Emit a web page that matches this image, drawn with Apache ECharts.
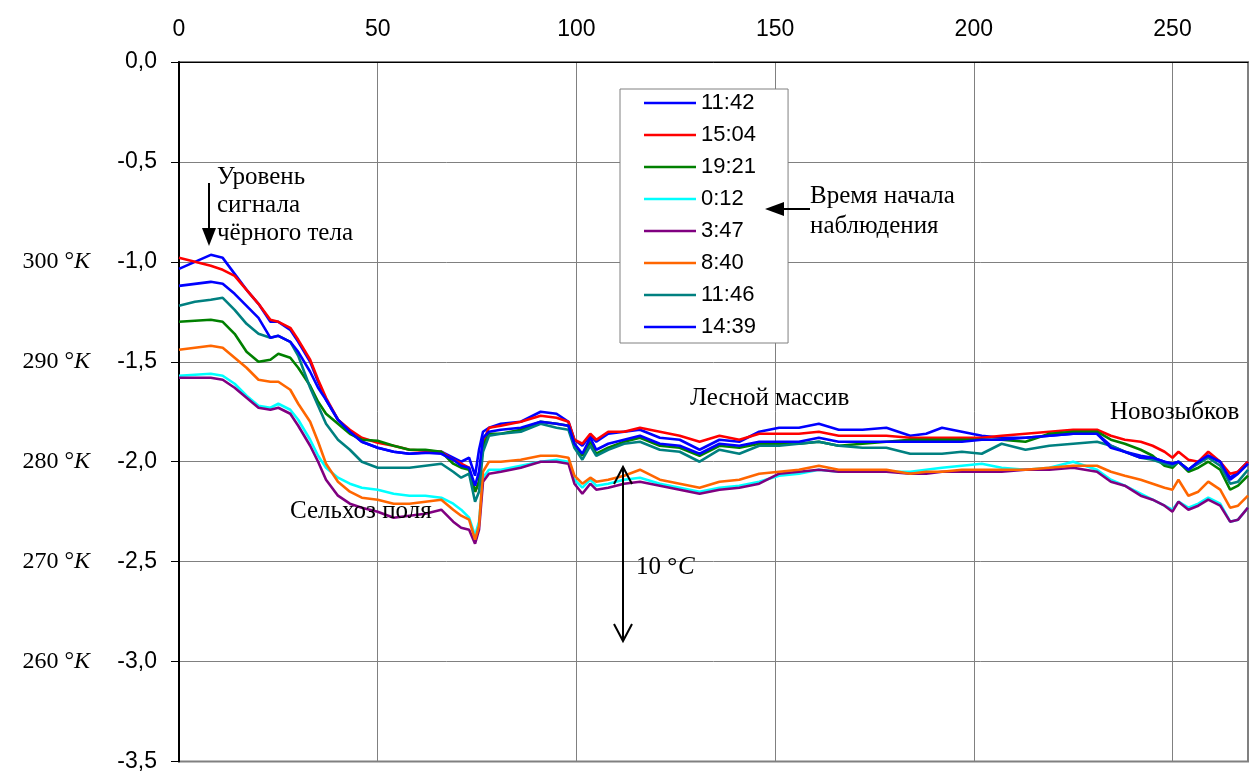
<!DOCTYPE html>
<html style="height: 100%">
<head>
    <meta charset="utf-8">
    <script src="https://cdn.jsdelivr.net/npm/echarts@6/dist/echarts.min.js"></script>
</head>
<body style="height: 100%; margin: 0; background-color: #fff;">
<div id="container" style="width: 1252px; height: 773px"></div>
<script type="text/javascript">
// distance along the route (shared by all runs)
var xs = [0, 4, 8, 11, 14, 17, 20, 23, 25, 28,
    30, 33, 35, 37, 40, 43, 46, 50, 54, 58,
    62, 66, 69, 71, 73, 74.5, 75.5, 76.5, 78, 81,
    86, 91, 95, 98, 99.5, 101.5, 103.5, 105, 108, 112,
    116, 121, 126, 131, 136, 141, 146, 151, 156, 161,
    166, 172, 178, 184, 188, 192, 197, 202, 207, 213,
    219, 225, 231, 234.5, 238, 242, 245, 248, 250, 251.5,
    254, 256.5, 259, 262, 264.5, 266.5, 269];

var s1142 = [-1.035, -1.00, -0.965, -0.98, -1.06, -1.14, -1.21, -1.30, -1.30, -1.34,
    -1.40, -1.50, -1.60, -1.69, -1.79, -1.85, -1.90, -1.93, -1.95, -1.96,
    -1.955, -1.95, -1.98, -2.00, -1.98, -2.07, -1.94, -1.85, -1.83, -1.81,
    -1.80, -1.75, -1.76, -1.80, -1.89, -1.92, -1.87, -1.90, -1.86, -1.85,
    -1.84, -1.88, -1.89, -1.94, -1.89, -1.90, -1.85, -1.83, -1.83, -1.81,
    -1.84, -1.84, -1.83, -1.87, -1.86, -1.83, -1.85, -1.87, -1.88, -1.88,
    -1.87, -1.86, -1.86, -1.92, -1.95, -1.97, -1.98, -2.00, -2.01, -2.00,
    -2.04, -2.00, -1.97, -2.00, -2.08, -2.05, -2.00];

var s1504 = [-0.98, -1.00, -1.02, -1.04, -1.07, -1.14, -1.21, -1.29, -1.30, -1.33,
    -1.39, -1.49, -1.59, -1.68, -1.79, -1.84, -1.88, -1.905, -1.92, -1.94,
    -1.945, -1.95, -1.99, -2.01, -2.03, -2.15, -2.10, -1.90, -1.83, -1.82,
    -1.80, -1.77, -1.78, -1.80, -1.89, -1.91, -1.86, -1.89, -1.85, -1.85,
    -1.83, -1.85, -1.87, -1.90, -1.87, -1.89, -1.86, -1.86, -1.86, -1.85,
    -1.87, -1.87, -1.87, -1.88, -1.88, -1.88, -1.88, -1.88, -1.87, -1.86,
    -1.85, -1.84, -1.84, -1.87, -1.89, -1.90, -1.92, -1.95, -1.98, -1.95,
    -1.99, -2.00, -1.95, -2.00, -2.06, -2.05, -2.00];

var s1921 = [-1.30, -1.295, -1.29, -1.30, -1.36, -1.45, -1.50, -1.49, -1.46, -1.48,
    -1.53, -1.62, -1.70, -1.76, -1.81, -1.86, -1.89, -1.895, -1.92, -1.94,
    -1.94, -1.95, -2.01, -2.03, -2.04, -2.15, -2.10, -1.92, -1.86, -1.86,
    -1.84, -1.80, -1.81, -1.82, -1.91, -1.97, -1.90, -1.96, -1.93, -1.90,
    -1.88, -1.92, -1.93, -1.97, -1.92, -1.93, -1.91, -1.91, -1.91, -1.90,
    -1.92, -1.91, -1.90, -1.89, -1.89, -1.89, -1.89, -1.89, -1.89, -1.90,
    -1.86, -1.85, -1.85, -1.89, -1.91, -1.94, -1.97, -2.02, -2.03, -2.00,
    -2.05, -2.03, -2.00, -2.04, -2.14, -2.12, -2.07];

var s0012 = [-1.57, -1.565, -1.56, -1.57, -1.61, -1.67, -1.72, -1.73, -1.71, -1.74,
    -1.79, -1.89, -1.97, -2.03, -2.08, -2.11, -2.13, -2.14, -2.16, -2.17,
    -2.17, -2.18, -2.21, -2.24, -2.28, -2.37, -2.30, -2.08, -2.04, -2.04,
    -2.02, -2.00, -1.99, -2.00, -2.09, -2.13, -2.09, -2.12, -2.11, -2.09,
    -2.08, -2.11, -2.13, -2.15, -2.13, -2.12, -2.10, -2.07, -2.06, -2.04,
    -2.05, -2.05, -2.05, -2.05, -2.04, -2.03, -2.02, -2.01, -2.03, -2.04,
    -2.03, -2.00, -2.04, -2.09, -2.12, -2.16, -2.19, -2.22, -2.24, -2.20,
    -2.23, -2.21, -2.18, -2.21, -2.30, -2.29, -2.23];

var s0347 = [-1.58, -1.58, -1.58, -1.59, -1.63, -1.68, -1.73, -1.74, -1.73, -1.76,
    -1.82, -1.92, -2.00, -2.09, -2.17, -2.21, -2.23, -2.25, -2.28, -2.27,
    -2.26, -2.24, -2.30, -2.33, -2.34, -2.41, -2.34, -2.10, -2.06, -2.05,
    -2.03, -2.00, -2.00, -2.01, -2.11, -2.16, -2.11, -2.14, -2.13, -2.11,
    -2.10, -2.12, -2.14, -2.16, -2.14, -2.13, -2.11, -2.06, -2.05, -2.04,
    -2.05, -2.05, -2.05, -2.06, -2.06, -2.05, -2.05, -2.05, -2.05, -2.04,
    -2.04, -2.03, -2.05, -2.10, -2.12, -2.17, -2.19, -2.22, -2.25, -2.20,
    -2.24, -2.22, -2.19, -2.22, -2.30, -2.29, -2.23];

var s0840 = [-1.44, -1.43, -1.42, -1.43, -1.48, -1.53, -1.59, -1.60, -1.60, -1.64,
    -1.71, -1.80, -1.90, -2.01, -2.10, -2.15, -2.18, -2.19, -2.21, -2.21,
    -2.20, -2.19, -2.24, -2.27, -2.29, -2.39, -2.32, -2.05, -2.00, -2.00,
    -1.99, -1.97, -1.97, -1.98, -2.07, -2.11, -2.08, -2.10, -2.09, -2.07,
    -2.04, -2.09, -2.11, -2.13, -2.10, -2.09, -2.06, -2.05, -2.04, -2.02,
    -2.04, -2.04, -2.04, -2.06, -2.05, -2.05, -2.04, -2.04, -2.04, -2.04,
    -2.03, -2.02, -2.02, -2.05, -2.07, -2.09, -2.11, -2.13, -2.14, -2.09,
    -2.17, -2.15, -2.10, -2.14, -2.23, -2.22, -2.17];

var s1146 = [-1.22, -1.20, -1.19, -1.18, -1.24, -1.31, -1.36, -1.38, -1.37, -1.40,
    -1.47, -1.63, -1.72, -1.81, -1.89, -1.94, -2.00, -2.03, -2.03, -2.03,
    -2.02, -2.01, -2.05, -2.08, -2.06, -2.20, -2.15, -1.95, -1.87, -1.86,
    -1.85, -1.81, -1.83, -1.84, -1.93, -1.99, -1.92, -1.97, -1.94, -1.91,
    -1.90, -1.94, -1.95, -2.00, -1.94, -1.96, -1.92, -1.92, -1.91, -1.90,
    -1.92, -1.93, -1.93, -1.96, -1.96, -1.96, -1.95, -1.96, -1.91, -1.94,
    -1.92, -1.91, -1.90, -1.92, -1.95, -1.98, -1.99, -2.01, -2.02, -2.00,
    -2.04, -2.01, -1.98, -2.02, -2.11, -2.10, -2.04];

var s1439 = [-1.12, -1.11, -1.10, -1.11, -1.16, -1.22, -1.28, -1.38, -1.37, -1.40,
    -1.45, -1.55, -1.63, -1.69, -1.79, -1.85, -1.90, -1.93, -1.95, -1.96,
    -1.955, -1.96, -1.99, -2.02, -2.03, -2.12, -2.05, -1.88, -1.85, -1.84,
    -1.83, -1.80, -1.81, -1.82, -1.91, -1.96, -1.88, -1.94, -1.91, -1.89,
    -1.87, -1.91, -1.92, -1.96, -1.91, -1.92, -1.90, -1.90, -1.90, -1.88,
    -1.90, -1.90, -1.90, -1.90, -1.90, -1.90, -1.90, -1.89, -1.89, -1.88,
    -1.87, -1.86, -1.86, -1.93, -1.95, -1.98, -1.98, -2.00, -2.01, -2.00,
    -2.04, -2.00, -1.97, -2.00, -2.09, -2.06, -2.01];

var runNames = ['11:42', '15:04', '19:21', '0:12', '3:47', '8:40', '11:46', '14:39'];
var runValues = [s1142, s1504, s1921, s0012, s0347, s0840, s1146, s1439];
var runColors = ['#0000FF', '#FF0000', '#008000', '#00FFFF', '#800080', '#FF6600', '#008080', '#0000FF'];

// temperature marks shown beside the signal axis
var signalTicks = [-1.0, -1.5, -2.0, -2.5, -3.0];
var kelvinTicks = [300, 290, 280, 270, 260];

var chart = echarts.init(document.getElementById('container'));

var series = [];
for (var i = 0; i < runNames.length; i++) {
    var pts = [];
    for (var j = 0; j < xs.length; j++) {
        pts.push([xs[j], runValues[i][j]]);
    }
    series.push({
        name: runNames[i],
        type: 'line',
        data: pts,
        showSymbol: false,
        symbol: 'none',
        lineStyle: { color: runColors[i], width: 2.6 },
        itemStyle: { color: runColors[i] },
        animation: false
    });
}

var serif = '"Liberation Serif", "Times New Roman", serif';
var sans = '"Liberation Sans", Arial, sans-serif';

var option = {
    animation: false,
    grid: {
        left: 179, top: 62, right: 4, bottom: 10,
        show: true,
        borderColor: '#808080',
        borderWidth: 2
    },
    legend: {
        data: runNames,
        orient: 'vertical',
        left: 620,
        top: 89,
        icon: 'rect',
        itemWidth: 52,
        itemHeight: 2.5,
        itemGap: 8,
        padding: [2, 32, 4, 24],
        backgroundColor: '#fff',
        borderColor: '#808080',
        borderWidth: 1,
        borderRadius: 0,
        textStyle: { fontFamily: sans, fontSize: 22, color: '#000', lineHeight: 24 }
    },
    xAxis: {
        type: 'value',
        position: 'top',
        min: 0,
        max: 269,
        interval: 50,
        axisLine: { show: true, lineStyle: { color: '#000', width: 1 } },
        axisTick: { show: false },
        axisLabel: { showMaxLabel: false, margin: 21, fontFamily: sans, fontSize: 23, color: '#000' },
        splitLine: { show: true, lineStyle: { color: '#808080', width: 1 } }
    },
    yAxis: [{
        type: 'value',
        min: -3.5,
        max: 0,
        interval: 0.5,
        axisLine: { show: true, onZero: false, lineStyle: { color: '#000', width: 2 } },
        axisTick: { show: true, length: 8, lineStyle: { color: '#000' } },
        axisLabel: {
            margin: 22, fontFamily: sans, fontSize: 23, color: '#000',
            formatter: function (v) { return v.toFixed(1).replace('.', ','); }
        },
        splitLine: { show: true, lineStyle: { color: '#808080', width: 1 } }
    }, {
        type: 'value',
        position: 'left',
        min: -3.5,
        max: 0,
        interval: 0.5,
        axisLine: { show: false },
        axisTick: { show: false },
        splitLine: { show: false },
        axisLabel: {
            margin: 89,
            formatter: function (v) {
                for (var k = 0; k < signalTicks.length; k++) {
                    if (Math.abs(signalTicks[k] - v) < 1e-6) return '{n|' + kelvinTicks[k] + ' °}{k|K}';
                }
                return '';
            },
            rich: {
                n: { fontFamily: serif, fontSize: 24, color: '#000' },
                k: { fontFamily: serif, fontSize: 24, fontStyle: 'italic', color: '#000' }
            }
        }
    }],
    series: series,
    graphic: [
        { type: 'text', z: 100, style: { x: 217, y: 163, text: 'Уровень\nсигнала\nчёрного тела', font: '25px ' + serif, fill: '#000', lineHeight: 28 } },
        { type: 'line', z: 100, shape: { x1: 209, y1: 183, x2: 209, y2: 230 }, style: { stroke: '#000', lineWidth: 2 } },
        { type: 'polygon', z: 100, shape: { points: [[202, 228], [216, 228], [209, 246]] }, style: { fill: '#000' } },

        { type: 'text', z: 100, style: { x: 810, y: 181, text: 'Время начала\nнаблюдения', font: '25px ' + serif, fill: '#000', lineHeight: 30 } },
        { type: 'line', z: 100, shape: { x1: 782, y1: 209, x2: 810, y2: 209 }, style: { stroke: '#000', lineWidth: 2 } },
        { type: 'polygon', z: 100, shape: { points: [[765, 209], [784, 202], [784, 216]] }, style: { fill: '#000' } },

        { type: 'text', z: 100, style: { x: 690, y: 386, text: 'Лесной массив', font: '25px ' + serif, fill: '#000' } },
        { type: 'text', z: 100, style: { x: 1110, y: 400, text: 'Новозыбков', font: '25px ' + serif, fill: '#000' } },
        { type: 'text', z: 100, style: { x: 290, y: 499, text: 'Сельхоз поля', font: '25px ' + serif, fill: '#000' } },

        { type: 'line', z: 100, shape: { x1: 623, y1: 468, x2: 623, y2: 640 }, style: { stroke: '#000', lineWidth: 2 } },
        { type: 'polyline', z: 100, shape: { points: [[614, 484], [623, 467], [632, 484]] }, style: { stroke: '#000', lineWidth: 2, fill: null } },
        { type: 'polyline', z: 100, shape: { points: [[614, 624], [623, 641], [632, 624]] }, style: { stroke: '#000', lineWidth: 2, fill: null } },
        { type: 'text', z: 100, style: { x: 636, y: 555, text: '10 °', font: '25px ' + serif, fill: '#000' } },
        { type: 'text', z: 100, style: { x: 678, y: 555, text: 'C', font: 'italic 25px ' + serif, fill: '#000' } }
    ]
};

chart.setOption(option);
</script>
</body>
</html>
